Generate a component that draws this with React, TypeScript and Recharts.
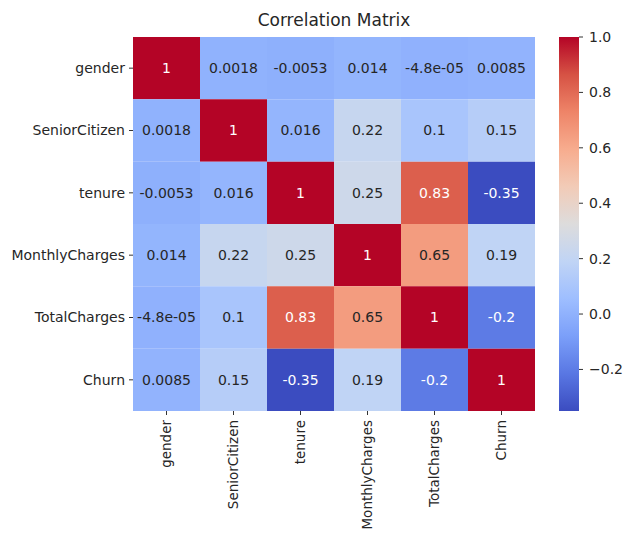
import React from "react";
import { ScatterChart, Scatter, XAxis, YAxis, ReferenceArea } from "recharts";

const labels = ["gender", "SeniorCitizen", "tenure", "MonthlyCharges", "TotalCharges", "Churn"];
const genderRow = [1, 0.0018, -0.0053, 0.014, -4.8e-5, 0.0085];
const seniorRow = [0.0018, 1, 0.016, 0.22, 0.1, 0.15];
const tenureRow = [-0.0053, 0.016, 1, 0.25, 0.83, -0.35];
const monthlyRow = [0.014, 0.22, 0.25, 1, 0.65, 0.19];
const totalRow = [-4.8e-5, 0.1, 0.83, 0.65, 1, -0.2];
const churnRow = [0.0085, 0.15, -0.35, 0.19, -0.2, 1];
const matrix = [genderRow, seniorRow, tenureRow, monthlyRow, totalRow, churnRow];
const colorbarTicks = [-0.2, 0, 0.2, 0.4, 0.6, 0.8, 1.0];
const title = "Correlation Matrix";

const coolwarm = ["#3b4cc0", "#5977e3", "#7b9ff9", "#9ebeff", "#c0d4f5", "#dddcdc", "#f2cbb7", "#f7ac8e", "#ee8468", "#d65244", "#b40426"];

const allVals = matrix.flat();
const vmin = Math.min(...allVals);
const vmax = Math.max(...allVals);

const hex = (h: string) => [1, 3, 5].map((i) => parseInt(h.slice(i, i + 2), 16));
function cmap(v: number): number[] {
  let t = (v - vmin) / (vmax - vmin);
  t = Math.max(0, Math.min(1, t));
  const p = t * (coolwarm.length - 1);
  const i = Math.min(Math.floor(p), coolwarm.length - 2);
  const f = p - i;
  const a = hex(coolwarm[i]);
  const b = hex(coolwarm[i + 1]);
  return a.map((c, k) => Math.round(c + (b[k] - c) * f));
}
const rgbStr = (c: number[]) => `rgb(${c[0]},${c[1]},${c[2]})`;
function lum(c: number[]) {
  const l = c.map((x) => {
    const s = x / 255;
    return s <= 0.03928 ? s / 12.92 : Math.pow((s + 0.055) / 1.055, 2.4);
  });
  return 0.2126 * l[0] + 0.7152 * l[1] + 0.0722 * l[2];
}
function fmtG2(v: number) {
  if (v !== 0 && Math.abs(v) < 1e-4) {
    const s = v.toExponential(1);
    return s.replace(/e([+-])(\d)$/, "e$10$2");
  }
  let s = v.toPrecision(2);
  if (s.includes(".")) s = s.replace(/0+$/, "").replace(/\.$/, "");
  return s;
}

const cells = matrix.flatMap((row, r) =>
  row.map((v, c) => ({ x: c + 0.5, y: r + 0.5, r, c, v }))
);

const FONT = "'DejaVu Sans', sans-serif";
const TEXT = "#262626";
const FS = 14;
const centers = [0.5, 1.5, 2.5, 3.5, 4.5, 5.5];

const XTick = (props: any) => {
  const { x, y, payload } = props;
  return (
    <g transform={`translate(${x},${y})`}>
      <text transform="rotate(-90)" x={-3} y={0} dy="0.35em" textAnchor="end" fontSize={13.5} fill={TEXT} fontFamily={FONT}>
        {labels[Math.floor(payload.value)]}
      </text>
    </g>
  );
};

const Annot = (props: any) => {
  const { cx, cy, payload } = props;
  const col = cmap(payload.v);
  const fill = lum(col) > 0.408 ? TEXT : "#ffffff";
  return (
    <text x={cx} y={cy} dy="0.35em" textAnchor="middle" fontSize={FS} fill={fill} fontFamily={FONT}>
      {fmtG2(payload.v)}
    </text>
  );
};

export default function App() {
  return (
    <div style={{ position: "absolute", left: 0, top: 0, width: 623, height: 533, background: "#fff", fontFamily: FONT, overflow: "hidden" }}>
      <svg width={0} height={0} style={{ position: "absolute" }}>
        <defs>
          <linearGradient id="cbGrad" x1="0" y1="1" x2="0" y2="0">
            {coolwarm.map((c, i) => (
              <stop key={i} offset={`${(i / (coolwarm.length - 1)) * 100}%`} stopColor={c} />
            ))}
          </linearGradient>
        </defs>
      </svg>
      <div style={{ position: "absolute", left: 133, width: 402, top: 9, lineHeight: "22px", textAlign: "center", fontSize: 17, color: TEXT }}>
        {title}
      </div>
      <div style={{ position: "absolute", left: 0, top: 0 }}>
        <ScatterChart width={623} height={533} margin={{ top: 37, right: 88, bottom: 2, left: 0 }}>
          <XAxis
            type="number"
            dataKey="x"
            domain={[0, 6]}
            ticks={centers}
            interval={0}
            axisLine={false}
            tickSize={4}
            tickLine={{ stroke: "#333" }}
            tick={<XTick />}
            height={120}
            allowDataOverflow
          />
          <YAxis
            type="number"
            dataKey="y"
            domain={[0, 6]}
            reversed
            ticks={centers}
            interval={0}
            axisLine={false}
            tickSize={4}
            tickMargin={4}
            tickLine={{ stroke: "#333" }}
            tick={{ fontSize: FS, fill: TEXT, fontFamily: FONT }}
            tickFormatter={(v: number) => labels[Math.floor(v)]}
            width={133}
            allowDataOverflow
          />
          {cells.map((d) => (
            <ReferenceArea
              key={`${d.r}-${d.c}`}
              x1={d.c}
              x2={d.c + 1}
              y1={d.r}
              y2={d.r + 1}
              fill={rgbStr(cmap(d.v))}
              fillOpacity={1}
              stroke="none"
              ifOverflow="visible"
            />
          ))}
          <Scatter data={cells} isAnimationActive={false} shape={<Annot />} />
        </ScatterChart>
      </div>
      <div style={{ position: "absolute", left: 540, top: 0 }}>
        <ScatterChart width={83} height={533} margin={{ top: 37, right: 0, bottom: 122, left: 19 }}>
          <XAxis type="number" dataKey="x" domain={[0, 1]} hide />
          <YAxis
            type="number"
            dataKey="y"
            orientation="right"
            domain={[vmin, vmax]}
            ticks={colorbarTicks}
            interval={0}
            axisLine={false}
            tickSize={4}
            tickMargin={6}
            tickLine={{ stroke: "#333" }}
            tick={{ fontSize: FS, fill: TEXT, fontFamily: FONT, textAnchor: "start" }}
            tickFormatter={(v: number) => (v < 0 ? "\u2212" + Math.abs(v).toFixed(1) : v.toFixed(1))}
            width={44}
            allowDataOverflow
          />
          <ReferenceArea x1={0} x2={1} y1={vmin} y2={vmax} fill="url(#cbGrad)" fillOpacity={1} stroke="none" ifOverflow="visible" />
          <Scatter data={[{ x: 0.5, y: vmin }]} isAnimationActive={false} shape={() => <g />} />
        </ScatterChart>
      </div>
    </div>
  );
}
